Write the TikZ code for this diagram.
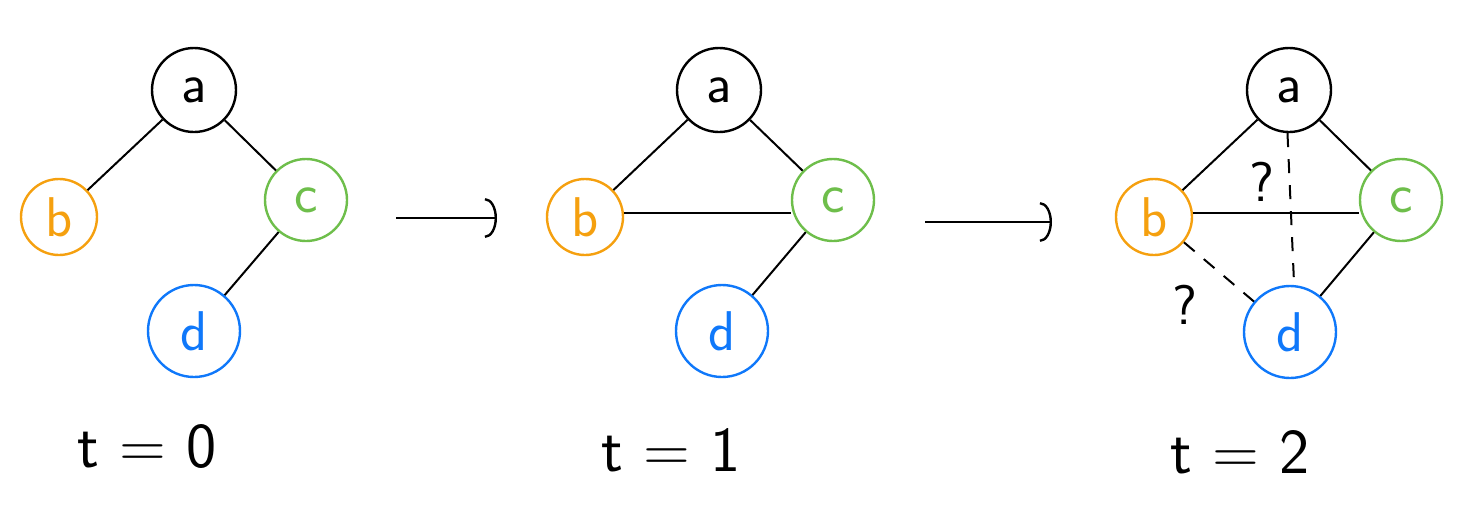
\documentclass[tikz,border=0pt]{standalone}
\usepackage{xcolor}
\usepackage{tikz}
\usetikzlibrary{arrows.meta, positioning, calc}
\definecolor{vorange}{RGB}{245, 160, 15}
\definecolor{vgreen}{RGB}{110, 190, 75}
\definecolor{vblue}{RGB}{15, 120, 250}

\begin{document}
\begin{tikzpicture}[
  x=0.5pt, y=-0.5pt,
  every node/.style={font=\sffamily\fontsize{28}{32}\selectfont},
  vert/.style={circle, draw, line width=1.2pt, inner sep=0pt},
  edge/.style={line width=1pt},
  maybe/.style={line width=1pt, dash pattern=on 7pt off 6pt},
  step arrow/.style={line width=1pt, -{Arc Barb[length=6pt, width=20pt, line width=1.2pt]}},
  tlabel/.style={font=\sffamily\fontsize{32}{36}\selectfont}
]
  \useasboundingbox (0,0) rectangle (1464,515);

  % t = 0
  \node[vert, minimum size=42pt] (a0) at (194,90) {a};
  \node[vert, draw=vorange, text=vorange, minimum size=38pt] (b0) at (59,217) {b};
  \node[vert, draw=vgreen, text=vgreen, minimum size=41pt] (c0) at (306,200) {c};
  \node[vert, draw=vblue, text=vblue, minimum size=46pt] (d0) at (194,331) {d};
  \draw[edge] (a0) -- (b0);
  \draw[edge] (a0) -- (c0);
  \draw[edge] (c0) -- (d0);
  \node[tlabel] (t0) at (147,447) {t = 0};

  % t = 1
  \node[vert, minimum size=42pt] (a1) at (719,90) {a};
  \node[vert, draw=vorange, text=vorange, minimum size=38pt] (b1) at (585,217) {b};
  \node[vert, draw=vgreen, text=vgreen, minimum size=41pt] (c1) at (833,200) {c};
  \node[vert, draw=vblue, text=vblue, minimum size=46pt] (d1) at (722,331) {d};
  \draw[edge] (a1) -- (b1);
  \draw[edge] (a1) -- (c1);
  \draw[edge] (c1) -- (d1);
  \draw[edge] (b1.6) -- (b1.6 -| c1.west);
  \node[tlabel] (t1) at (671,450) {t = 1};

  % t = 2
  \node[vert, minimum size=42pt] (a2) at (1289,90) {a};
  \node[vert, draw=vorange, text=vorange, minimum size=38pt] (b2) at (1154,217) {b};
  \node[vert, draw=vgreen, text=vgreen, minimum size=41pt] (c2) at (1401,200) {c};
  \node[vert, draw=vblue, text=vblue, minimum size=46pt] (d2) at (1290,332) {d};
  \draw[edge] (a2) -- (b2);
  \draw[edge] (a2) -- (c2);
  \draw[edge] (c2) -- (d2);
  \draw[edge] (b2.6) -- (b2.6 -| c2.west);
  \draw[maybe] (a2.268) -- (d2.85);
  \draw[maybe] (b2) -- (d2);
  \node (q1) at (1262,182) {?};
  \node (q2) at (1185,305) {?};
  \node[tlabel] (t2) at (1240,452) {t = 2};

  % arrows between steps
  \coordinate (s1) at (396,218);
  \coordinate (e1) at (497,218);
  \coordinate (s2) at (925,222);
  \coordinate (e2) at (1052,222);
  \draw[step arrow] (s1) -- (e1);
  \draw[step arrow] (s2) -- (e2);

\end{tikzpicture}
\end{document}
